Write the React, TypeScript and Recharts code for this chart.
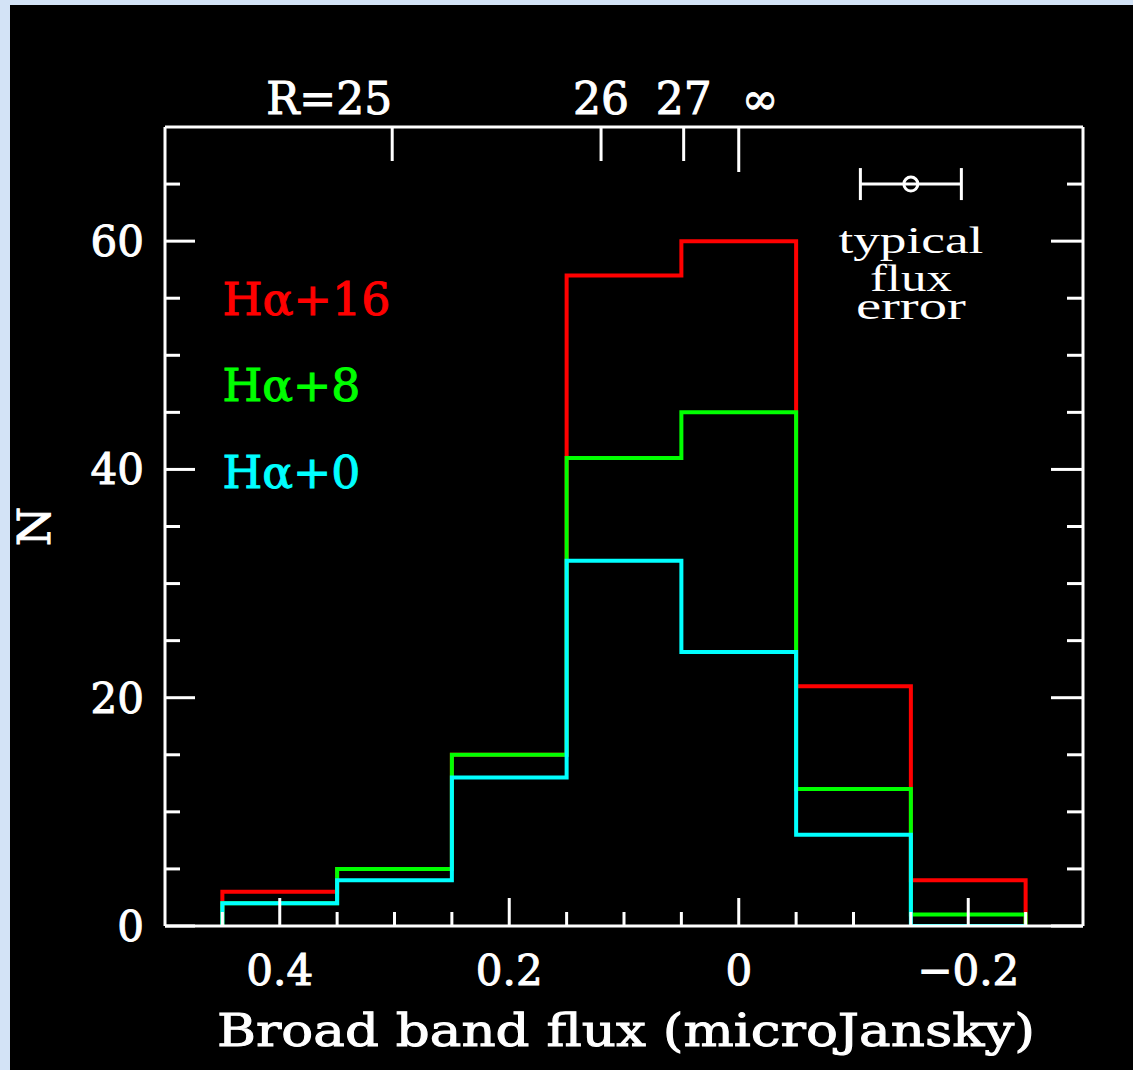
import React from 'react';
import {
  ComposedChart,
  Line,
  Scatter,
  ErrorBar,
  XAxis,
  YAxis,
  ReferenceDot,
} from 'recharts';

// bin edges (microJansky), counts per bin for each offset histogram
const binEdges = [0.45, 0.35, 0.25, 0.15, 0.05, -0.05, -0.15, -0.25];
const countsHa16 = [3, 5, 15, 57, 60, 21, 4];
const countsHa8 = [2, 5, 15, 41, 45, 12, 1];
const countsHa0 = [2, 4, 13, 32, 24, 8, 0];
const seriesNames = ['Hα+16', 'Hα+8', 'Hα+0'];

const xTicks = [0.45, 0.4, 0.35, 0.3, 0.25, 0.2, 0.15, 0.1, 0.05, 0, -0.05, -0.1, -0.15, -0.2, -0.25];
const xMajor = [0.4, 0.2, 0, -0.2];
const yTicks = [0, 5, 10, 15, 20, 25, 30, 35, 40, 45, 50, 55, 60, 65];
const yMajor = [0, 20, 40, 60];

// R magnitude marks along the top axis
const magTicks = [0.302, 0.12, 0.048, 0];
const magLabels = ['R=25', '26', '27', '∞'];

const typicalError = [{ x: -0.15, y: 65, err: 0.044 }];

const rows = [
  { x: binEdges[0], h16: 0, h8: 0, h0: 0 },
  ...binEdges.slice(0, -1).map((e, i) => ({
    x: e,
    h16: countsHa16[i],
    h8: countsHa8[i],
    h0: countsHa0[i],
  })),
  { x: binEdges[binEdges.length - 1], h16: 0, h8: 0, h0: 0 },
];

const FONT = '"DejaVu Serif", serif';
const THIN = '"Liberation Serif", serif';
const WHITE = '#ffffff';

const near = (list: number[], v: number) => list.some((m) => Math.abs(m - v) < 1e-6);
const fmt = (v: number) => (Math.abs(v) < 1e-9 ? '0' : v < 0 ? '\u2212' + Math.abs(v) : String(v));

const BottomTick = (props: any) => {
  const { x, y, payload } = props;
  const major = near(xMajor, payload.value);
  return (
    <g>
      <line x1={x} x2={x} y1={y} y2={y - (major ? 28 : 14)} stroke={WHITE} strokeWidth={3} />
      {major && (
        <text x={x} y={y + 59} textAnchor="middle" fill={WHITE} stroke={WHITE} strokeWidth={1} fontSize={42} fontFamily={FONT}>
          {fmt(payload.value)}
        </text>
      )}
    </g>
  );
};

const TopTick = (props: any) => {
  const { x, y, index } = props;
  const label = magLabels[index];
  const anchor = index === 0 ? 'end' : index === 3 ? 'start' : 'middle';
  return (
    <g>
      <line x1={x} x2={x} y1={y} y2={y + (index === 3 ? 45 : 34)} stroke={WHITE} strokeWidth={3} />
      <text x={index === 3 ? x + 3 : x} y={y - 13} textAnchor={anchor} fill={WHITE} stroke={WHITE} strokeWidth={1} fontSize={44} fontFamily={FONT}>
        {label}
      </text>
    </g>
  );
};

const LeftTick = (props: any) => {
  const { x, y, payload } = props;
  const major = near(yMajor, payload.value);
  return (
    <g>
      <line x1={x} x2={x + (major ? 30 : 15)} y1={y} y2={y} stroke={WHITE} strokeWidth={3} />
      {major && (
        <text x={x - 21} y={y + 15} textAnchor="end" fill={WHITE} stroke={WHITE} strokeWidth={1} fontSize={42} fontFamily={FONT}>
          {payload.value}
        </text>
      )}
    </g>
  );
};

const RightTick = (props: any) => {
  const { x, y, payload } = props;
  const major = near(yMajor, payload.value);
  return <line x1={x} x2={x - (major ? 32 : 16)} y1={y} y2={y} stroke={WHITE} strokeWidth={3} />;
};

const legendLabel = (name: string, color: string, width: number) => (p: any) => {
  const { x, y } = p.viewBox;
  return (
    <text x={x + 1} y={y + 1} fill={color} stroke={color} strokeWidth={1} fontSize={45} fontFamily={FONT} textLength={width} lengthAdjust="spacingAndGlyphs">
      {name}
    </text>
  );
};

const errorNote = (p: any) => {
  const { x, y } = p.viewBox;
  const cx = x + 1;
  const lines = [
    { t: 'typical', dy: 0, w: 145 },
    { t: 'flux', dy: 38, w: 82 },
    { t: 'error', dy: 66, w: 110 },
  ];
  return (
    <g>
      {lines.map((l) => (
        <text key={l.t} x={cx} y={y + 1 + l.dy} textAnchor="middle" fill={WHITE} fontSize={37} fontFamily={THIN} textLength={l.w} lengthAdjust="spacingAndGlyphs">
          {l.t}
        </text>
      ))}
    </g>
  );
};

const ErrCircle = (props: any) => (
  <circle cx={props.cx} cy={props.cy} r={7} fill="none" stroke={WHITE} strokeWidth={3} />
);

export default function App() {
  return (
    <div style={{ position: 'absolute', left: 0, top: 0, width: 1133, height: 1070, background: '#d3e3f6', overflow: 'hidden' }}>
      <div style={{ position: 'absolute', left: 10, top: 5, width: 1123, height: 1065, background: '#000' }}>
        <ComposedChart width={1123} height={1065} data={rows} margin={{ top: 0, right: 0, bottom: 0, left: 0 }}>
          <Line xAxisId="b" yAxisId="l" type="stepAfter" dataKey="h16" name={seriesNames[0]} stroke="#ff0000" strokeWidth={4} dot={false} isAnimationActive={false} />
          <Line xAxisId="b" yAxisId="l" type="stepAfter" dataKey="h8" name={seriesNames[1]} stroke="#00ff00" strokeWidth={4} dot={false} isAnimationActive={false} />
          <Line xAxisId="b" yAxisId="l" type="stepAfter" dataKey="h0" name={seriesNames[2]} stroke="#00ffff" strokeWidth={4} dot={false} isAnimationActive={false} />
          <Scatter xAxisId="b" yAxisId="l" data={typicalError} dataKey="y" shape={ErrCircle} isAnimationActive={false}>
            <ErrorBar dataKey="err" direction="x" width={16} stroke={WHITE} strokeWidth={3} isAnimationActive={false} />
          </Scatter>

          <ReferenceDot xAxisId="b" yAxisId="l" x={0.45} y={53.5} r={1} fill="none" stroke="none" label={{ content: legendLabel(seriesNames[0], '#ff0000', 168) }} />
          <ReferenceDot xAxisId="b" yAxisId="l" x={0.45} y={46.0} r={1} fill="none" stroke="none" label={{ content: legendLabel(seriesNames[1], '#00ff00', 138) }} />
          <ReferenceDot xAxisId="b" yAxisId="l" x={0.45} y={38.4} r={1} fill="none" stroke="none" label={{ content: legendLabel(seriesNames[2], '#00ffff', 138) }} />
          <ReferenceDot xAxisId="b" yAxisId="l" x={-0.15} y={59.0} r={1} fill="none" stroke="none" label={{ content: errorNote }} />

          <XAxis
            xAxisId="b"
            dataKey="x"
            type="number"
            domain={[-0.3, 0.5]}
            reversed
            ticks={xTicks}
            interval={0}
            tickSize={0}
            tickMargin={0}
            tickLine={false}
            tick={BottomTick}
            height={144}
            axisLine={{ stroke: WHITE, strokeWidth: 3 }}
            allowDataOverflow
            label={{
              content: (p: any) => (
                <text x={p.viewBox.x + p.viewBox.width / 2 + 2} y={p.viewBox.y + 120} textAnchor="middle" fill={WHITE} stroke={WHITE} strokeWidth={1} fontSize={45} fontFamily={FONT} textLength={818} lengthAdjust="spacingAndGlyphs">
                  Broad band flux (microJansky)
                </text>
              ),
            }}
          />
          <XAxis
            xAxisId="t"
            dataKey="x"
            type="number"
            orientation="top"
            domain={[-0.3, 0.5]}
            reversed
            ticks={magTicks}
            interval={0}
            tickSize={0}
            tickMargin={0}
            tickLine={false}
            tick={TopTick}
            height={122}
            axisLine={{ stroke: WHITE, strokeWidth: 3 }}
            allowDataOverflow
          />
          <YAxis
            yAxisId="l"
            type="number"
            domain={[0, 70]}
            ticks={yTicks}
            interval={0}
            tickSize={0}
            tickMargin={0}
            tickLine={false}
            tick={LeftTick}
            width={155}
            axisLine={{ stroke: WHITE, strokeWidth: 3 }}
            allowDataOverflow
            label={{
              content: (p: any) => {
                const cx = p.viewBox.x + 24;
                const cy = p.viewBox.y + p.viewBox.height / 2;
                return (
                  <text x={cx} y={cy} textAnchor="middle" dominantBaseline="central" fill={WHITE} stroke={WHITE} strokeWidth={1} fontSize={45} fontFamily={FONT} transform={`rotate(-90, ${cx}, ${cy})`}>
                    N
                  </text>
                );
              },
            }}
          />
          <YAxis
            yAxisId="r"
            orientation="right"
            type="number"
            domain={[0, 70]}
            ticks={yTicks}
            interval={0}
            tickSize={0}
            tickMargin={0}
            tickLine={false}
            tick={RightTick}
            width={50}
            axisLine={{ stroke: WHITE, strokeWidth: 3 }}
            allowDataOverflow
          />
        </ComposedChart>
      </div>
    </div>
  );
}
